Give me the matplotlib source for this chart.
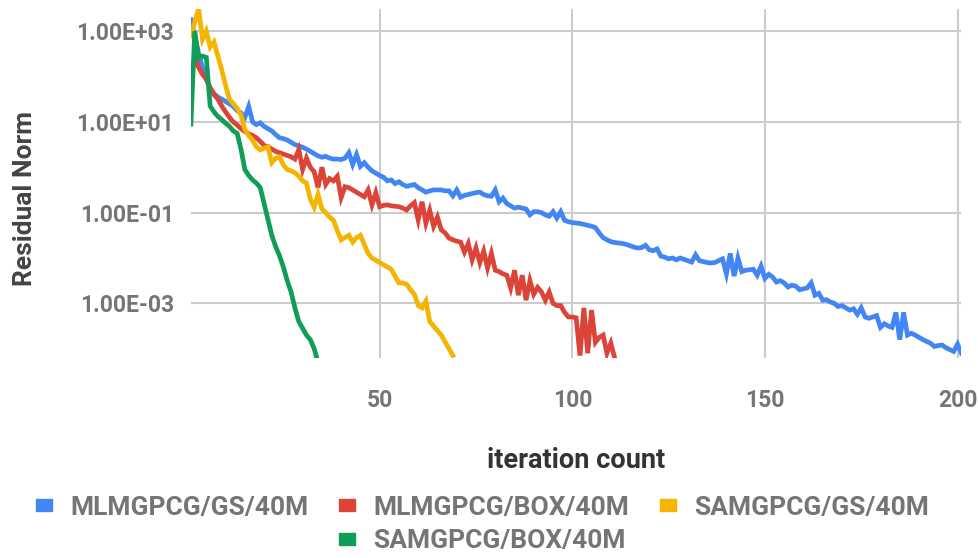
import numpy as np
import matplotlib
matplotlib.use("Agg")
import matplotlib.pyplot as plt
from matplotlib.patches import Patch

# residual norms, stored as log10 values (one per iteration)
mlmg_gs_log = [
    3.25, 2.9, 2.5, 2.2, 1.95, 1.75, 1.62, 1.55, 1.5, 1.45,
    1.4, 1.34, 1.25, 1.2, 1.1, 1.34, 1.0, 0.94, 0.98, 0.9,
    0.85, 0.8, 0.72, 0.65, 0.63, 0.6, 0.55, 0.5, 0.47, 0.44,
    0.4, 0.35, 0.3, 0.25, 0.22, 0.24, 0.2, 0.18, 0.18, 0.17,
    0.2, 0.32, 0.06, 0.28, 0.02, 0.1, 0.0, -0.08, -0.13, -0.18,
    -0.22, -0.3, -0.28, -0.36, -0.32, -0.38, -0.42, -0.4, -0.38, -0.45,
    -0.5, -0.55, -0.52, -0.5, -0.5, -0.5, -0.52, -0.52, -0.63, -0.5,
    -0.66, -0.62, -0.6, -0.58, -0.56, -0.55, -0.6, -0.63, -0.64, -0.5,
    -0.76, -0.68, -0.8, -0.85, -0.9, -0.88, -0.9, -0.92, -1.05, -0.98,
    -0.98, -1.0, -1.05, -1.08, -0.98, -1.12, -0.98, -1.17, -1.2, -1.22,
    -1.23, -1.24, -1.26, -1.28, -1.3, -1.33, -1.45, -1.55, -1.6, -1.64,
    -1.66, -1.67, -1.68, -1.7, -1.73, -1.76, -1.78, -1.77, -1.72, -1.82,
    -1.84, -1.8, -1.96, -1.98, -2.02, -2.0, -2.04, -2.0, -2.03, -2.06,
    -2.09, -1.93, -2.06, -2.08, -2.1, -2.11, -2.1, -2.06, -2.02, -2.35,
    -1.9, -2.4, -2.0, -2.3, -2.27, -2.26, -2.25, -2.38, -2.18, -2.45,
    -2.36, -2.42, -2.53, -2.5, -2.55, -2.64, -2.6, -2.62, -2.7, -2.68,
    -2.66, -2.55, -2.82, -2.78, -2.93, -2.92, -2.97, -3.0, -3.07, -3.05,
    -3.1, -3.15, -3.12, -3.24, -3.1, -3.3, -3.33, -3.3, -3.27, -3.53,
    -3.45, -3.5, -3.53, -3.2, -3.8, -3.2, -3.7, -3.66, -3.7, -3.75,
    -3.8, -3.84, -3.88, -3.95, -3.93, -3.92, -3.98, -4.02, -4.06, -3.9,
    -4.1,
]
mlmg_box_log = [
    2.0, 2.42, 2.2, 2.05, 1.94, 1.75, 1.6, 1.5, 1.35, 1.22,
    1.1, 1.0, 0.93, 0.85, 0.79, 0.74, 0.7, 0.65, 0.57, 0.48,
    0.45, 0.4, 0.35, 0.32, 0.29, 0.26, 0.23, 0.18, 0.39, -0.05,
    0.2, 0.0, -0.1, -0.45, 0.0, -0.38, -0.25, -0.3, -0.2, -0.67,
    -0.43, -0.45, -0.5, -0.55, -0.6, -0.65, -0.5, -0.83, -0.56, -0.87,
    -0.84, -0.83, -0.85, -0.86, -0.87, -0.9, -0.94, -0.85, -0.78, -1.16,
    -0.76, -1.23, -0.95, -1.3, -1.1, -1.38, -1.45, -1.56, -1.6, -1.63,
    -1.65, -1.87, -1.68, -2.04, -1.78, -2.1, -1.85, -2.22, -1.9, -2.27,
    -2.3, -2.35, -2.38, -2.66, -2.27, -2.82, -2.38, -2.93, -2.5, -2.8,
    -2.65, -2.75, -2.93, -2.75, -3.0, -3.05, -3.05, -3.2, -3.3, -3.3,
    -3.32, -4.15, -3.1, -4.1, -3.15, -3.86, -3.75, -3.7, -4.1, -3.88,
    -4.2,
]
samg_gs_log = [
    2.9, 3.2, 3.5, 2.82, 3.0, 2.65, 2.76, 2.45, 2.15, 1.8,
    1.5, 1.4, 1.3, 1.15, 0.83, 0.7, 0.6, 0.45, 0.38, 0.42,
    0.45, 0.1, 0.2, 0.23, 0.05, -0.05, -0.08, -0.12, -0.2, -0.3,
    -0.35, -0.7, -0.88, -0.6, -0.92, -1.0, -1.1, -1.17, -1.4, -1.6,
    -1.55, -1.5, -1.65, -1.55, -1.5, -1.7, -1.9, -2.0, -2.05, -2.1,
    -2.15, -2.2, -2.25, -2.4, -2.55, -2.55, -2.58, -2.7, -2.8, -3.05,
    -3.1, -2.95, -3.4, -3.5, -3.6, -3.7, -3.85, -4.0, -4.15,
]
samg_box_log = [
    0.95, 3.0, 2.4, 2.45, 2.42, 1.35, 1.22, 1.12, 1.05, 0.97,
    0.9, 0.8, 0.75, 0.4, -0.05, -0.18, -0.28, -0.35, -0.45, -0.8,
    -1.15, -1.5, -1.75, -1.95, -2.2, -2.5, -2.75, -3.1, -3.4, -3.55,
    -3.7, -3.8, -4.0, -4.3,
]

series_names = ["MLMGPCG/GS/40M", "MLMGPCG/BOX/40M", "SAMGPCG/GS/40M", "SAMGPCG/BOX/40M"]
series_logs = [mlmg_gs_log, mlmg_box_log, samg_gs_log, samg_box_log]
colors = ["#4285F4", "#DB4437", "#F4B400", "#0F9D58"]

y_ticks = [1e3, 1e1, 1e-1, 1e-3]
y_tick_labels = ["1.00E+03", "1.00E+01", "1.00E-01", "1.00E-03"]
x_ticks = [50, 100, 150, 200]

plt.rcParams["font.family"] = ["Roboto", "DejaVu Sans"]

fig = plt.figure(figsize=(9.79, 5.58), dpi=100)
ax = fig.add_axes([0.195, 0.358, 0.787, 0.626])

for name, logs, c in zip(series_names, series_logs, colors):
    it = np.arange(1, len(logs) + 1)
    ax.plot(it, 10.0 ** np.array(logs), color=c, lw=3.4, label=name,
            solid_joinstyle="miter")

ax.set_yscale("log")
ax.set_xlim(1, 201)
ax.set_ylim(10 ** -4.21, 10 ** 3.49)
ax.set_yticks(y_ticks)
ax.set_yticklabels(y_tick_labels)
ax.yaxis.set_minor_locator(matplotlib.ticker.NullLocator())
ax.set_xticks(x_ticks)
ax.set_xticklabels([str(v) for v in x_ticks])

ax.grid(True, color="#cccccc", lw=1.5)
ax.set_axisbelow(True)
for s in ax.spines.values():
    s.set_visible(False)
ax.tick_params(axis="both", length=0, labelsize=16.5, labelcolor="#757575")
ax.tick_params(axis="y", pad=12)
ax.tick_params(axis="x", pad=22)
for lab in ax.get_xticklabels() + ax.get_yticklabels():
    lab.set_fontweight("bold")

ax.set_ylabel("Residual Norm", fontsize=19, fontweight="bold", color="#444444")
ax.yaxis.set_label_coords(-0.2, 0.458)
ax.set_xlabel("iteration count", fontsize=19.5, fontweight="bold", color="#333333")
ax.xaxis.set_label_coords(0.5, -0.253)

handles = [Patch(color=c) for c in colors]
leg_kw = dict(frameon=False, handlelength=0.6, handleheight=0.3,
              handletextpad=0.7, columnspacing=1.15, labelcolor="#757575",
              borderpad=0.2, prop={"weight": "bold", "size": 19})
fig.legend(handles[:3], series_names[:3], ncol=3, loc="center",
           bbox_to_anchor=(0.493, 0.09), **leg_kw)
fig.legend(handles[3:], series_names[3:], ncol=1, loc="center",
           bbox_to_anchor=(0.493, 0.03), **leg_kw)

fig.savefig("out.png", dpi=100)
